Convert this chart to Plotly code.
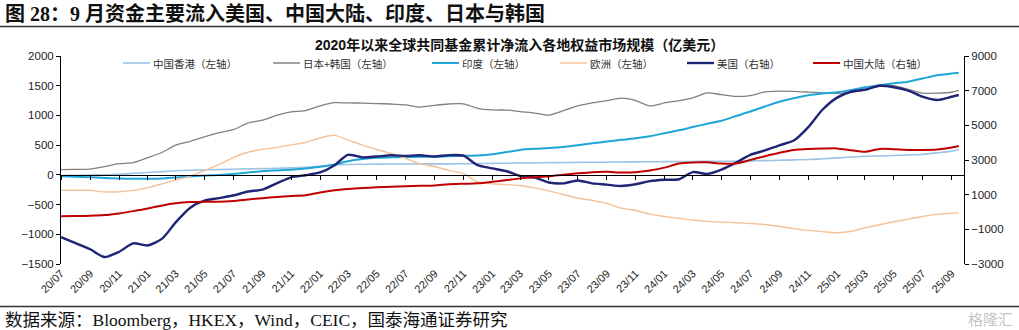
import plotly.graph_objects as go
import pandas as pd

# ---------------- data (monthly, 2020/07 .. 2025/09, plus last observation) ----------------
dates = list(pd.date_range("2020-07-01", "2025-09-01", freq="MS").strftime("%Y-%m-%d")) + ["2025-09-16"]

hk = [-12, -8, -3, 2, 10, 25, 40, 55, 70, 78,
      84, 89, 95, 100, 105, 110, 117, 128, 145, 165,
      175, 178, 180, 182, 183, 184, 185, 185, 187, 190,
      193, 196, 199, 202, 205, 208, 210, 212, 214, 217,
      219, 220, 222, 224, 226, 228, 229, 230, 235, 240,
      245, 252, 258, 270, 285, 300, 312, 318, 325, 335,
      345, 370, 400, 427]

jpkr = [88, 92, 98, 140, 188, 205, 290, 380, 500, 565,
        640, 710, 760, 870, 920, 1000, 1060, 1080, 1160, 1214,
        1210, 1208, 1200, 1192, 1178, 1140, 1170, 1192, 1195, 1120,
        1092, 1090, 1065, 1040, 1005, 1080, 1160, 1210, 1250, 1290,
        1250, 1160, 1210, 1250, 1295, 1380, 1350, 1320, 1335, 1395,
        1408, 1405, 1393, 1380, 1372, 1390, 1430, 1510, 1500, 1440,
        1375, 1375, 1390, 1420]

india = [-22, -30, -40, -52, -62, -67, -67, -62, -45, -27,
         -12, -3, 15, 40, 62, 75, 88, 105, 135, 175,
         228, 265, 287, 295, 300, 303, 305, 315, 320, 325,
         345, 385, 420, 438, 450, 470, 500, 530, 560, 590,
         615, 650, 700, 750, 805, 860, 910, 990, 1065, 1150,
         1230, 1290, 1340, 1370, 1390, 1430, 1475, 1510, 1540, 1568,
         1620, 1675, 1705, 1720]

europe = [-258, -260, -260, -287, -285, -262, -215, -150, -85, -20,
          70, 175, 290, 380, 430, 460, 505, 545, 620, 665,
          590, 500, 427, 360, 280, 185, 140, 75, 20, -120,
          -150, -165, -178, -220, -270, -330, -390, -430, -480, -560,
          -600, -660, -700, -730, -760, -782, -795, -805, -820, -835,
          -870, -905, -934, -955, -975, -950, -890, -840, -790, -745,
          -700, -665, -645, -640]

usa = [-1450, -1800, -2150, -2600, -2300, -1810, -1930, -1520, -600, 250,
       650, 800, 950, 1180, 1290, 1650, 2000, 2120, 2280, 2700,
       3300, 3150, 3200, 3270, 3240, 3270, 3200, 3280, 3250, 2700,
       2520, 2350, 2080, 1990, 1700, 1650, 1820, 1650, 1580, 1500,
       1600, 1780, 1860, 1890, 2300, 2200, 2450, 2850, 3300, 3550,
       3850, 4120, 4900, 5900, 6600, 6950, 7050, 7280, 7200, 7000,
       6650, 6460, 6650, 6750]

china = [-240, -235, -220, -180, -80, 50, 200, 380, 500, 570,
         594, 594, 640, 720, 800, 860, 920, 960, 1130, 1260,
         1330, 1380, 1430, 1460, 1490, 1510, 1530, 1600, 1630, 1654,
         1740, 1840, 1940, 2000, 2060, 2150, 2230, 2300, 2320, 2280,
         2300, 2400, 2560, 2800, 2860, 2865, 2800, 2800, 3000, 3220,
         3420, 3580, 3635, 3660, 3670, 3560, 3470, 3640, 3620, 3580,
         3575, 3600, 3720, 3810]

series = [
    # name, values, axis, color, width
    ("中国香港（左轴）", hk, "y", "#9DC3E6", 1.6),
    ("日本+韩国（左轴）", jpkr, "y", "#808080", 1.3),
    ("印度（左轴）", india, "y", "#1FA6D6", 2.0),
    ("欧洲（左轴）", europe, "y", "#F4C298", 1.4),
    ("美国（右轴）", usa, "y2", "#1F2576", 2.4),
    ("中国大陆（右轴）", china, "y2", "#C00000", 2.0),
]

left_range = [-1500, 2000]
right_range = [-3000, 9000]
x_range = ["2020-07-01", "2025-09-27"]

# ---------------- geometry helpers (pixel -> paper) ----------------
W, H = 1019, 330
PL, PR, PT, PB = 61, 964, 56, 264


def px(x):
    return (x - PL) / (PR - PL)


def py(y):
    return (PB - y) / (PB - PT)


fig = go.Figure()
for name, vals, ax, color, width in series:
    fig.add_trace(go.Scatter(
        x=dates, y=vals, name=name, yaxis=ax, mode="lines",
        line=dict(color=color, width=width, shape="spline", smoothing=0.7),
        showlegend=False,
    ))

# invisible trace to instantiate the zero-line axis (x2)
fig.add_trace(go.Scatter(x=[dates[0]], y=[0], xaxis="x2", yaxis="y", mode="markers",
                         marker=dict(opacity=0), showlegend=False, hoverinfo="skip"))

axis_font = dict(family="Liberation Sans, Arial, sans-serif", size=11.5, color="#222")

fig.update_layout(
    width=W, height=H,
    margin=dict(l=PL, r=W - PR, t=PT, b=H - PB, pad=0),
    paper_bgcolor="white", plot_bgcolor="white",
    xaxis=dict(type="date", range=x_range, tickformat="%y/%m", dtick="M2", tick0="2020-07-01",
               tickangle=-45, showline=False, ticks="", showgrid=False, zeroline=False,
               tickfont=dict(family="Liberation Sans, Arial, sans-serif", size=11, color="#222")),
    xaxis2=dict(type="date", range=x_range, overlaying="x", anchor="free",
                position=(0 - left_range[0]) / (left_range[1] - left_range[0]),
                dtick="M2", tick0="2020-07-01", showline=True, linecolor="#000", linewidth=1,
                ticks="outside", ticklen=4, tickcolor="#000", showticklabels=False,
                showgrid=False, zeroline=False),
    yaxis=dict(range=left_range, dtick=500, showline=True, linecolor="#000", linewidth=1,
               ticks="outside", ticklen=4, tickcolor="#000", showgrid=False, zeroline=False,
               tickfont=axis_font),
    yaxis2=dict(range=right_range, tick0=-3000, dtick=2000, overlaying="y", side="right",
                showline=True, linecolor="#000", linewidth=1, ticks="outside", ticklen=4,
                tickcolor="#000", showgrid=False, zeroline=False, tickfont=axis_font),
)

shapes = []
annotations = []

# header and footer rules
shapes.append(dict(type="line", xref="paper", yref="paper", x0=px(0), x1=px(W), y0=py(26.5), y1=py(26.5),
                   line=dict(color="#333", width=1.5)))
shapes.append(dict(type="line", xref="paper", yref="paper", x0=px(0), x1=px(W), y0=py(306.5), y1=py(306.5),
                   line=dict(color="#333", width=1.5)))

annotations.append(dict(xref="paper", yref="paper", x=px(3), y=py(13), xanchor="left", yanchor="middle",
                        text="<b>图 28：9 月资金主要流入美国、中国大陆、印度、日本与韩国</b>", showarrow=False,
                        font=dict(family="Liberation Serif, Noto Sans CJK SC", size=20, color="#111")))
annotations.append(dict(xref="paper", yref="paper", x=px(519), y=py(45), xanchor="center", yanchor="middle",
                        text="<b>2020年以来全球共同基金累计净流入各地权益市场规模（亿美元）</b>", showarrow=False,
                        font=dict(family="Liberation Sans, Noto Sans CJK SC", size=14, color="#111")))
annotations.append(dict(xref="paper", yref="paper", x=px(3), y=py(320), xanchor="left", yanchor="middle",
                        text="数据来源：Bloomberg，HKEX，Wind，CEIC，国泰海通证券研究", showarrow=False,
                        font=dict(family="Liberation Serif, Noto Sans CJK SC", size=17.5, color="#111")))
annotations.append(dict(xref="paper", yref="paper", x=px(1015), y=py(318), xanchor="right", yanchor="middle",
                        text="格隆汇", showarrow=False,
                        font=dict(family="Noto Sans CJK SC", size=15, color="rgba(170,170,170,0.7)")))

# manual legend
legend_x = [123, 273, 432, 560, 687, 813]
legend_y = 63
for (name, vals, ax, color, width), lx in zip(series, legend_x):
    shapes.append(dict(type="line", xref="paper", yref="paper", x0=px(lx), x1=px(lx + 27),
                       y0=py(legend_y), y1=py(legend_y), line=dict(color=color, width=max(width, 1.5))))
    annotations.append(dict(xref="paper", yref="paper", x=px(lx + 28), y=py(legend_y), xanchor="left",
                            yanchor="middle", text=name, showarrow=False,
                            font=dict(family="Noto Sans CJK SC", size=10.5, color="#333")))

fig.update_layout(shapes=shapes, annotations=annotations)
fig.write_html("out.html")
